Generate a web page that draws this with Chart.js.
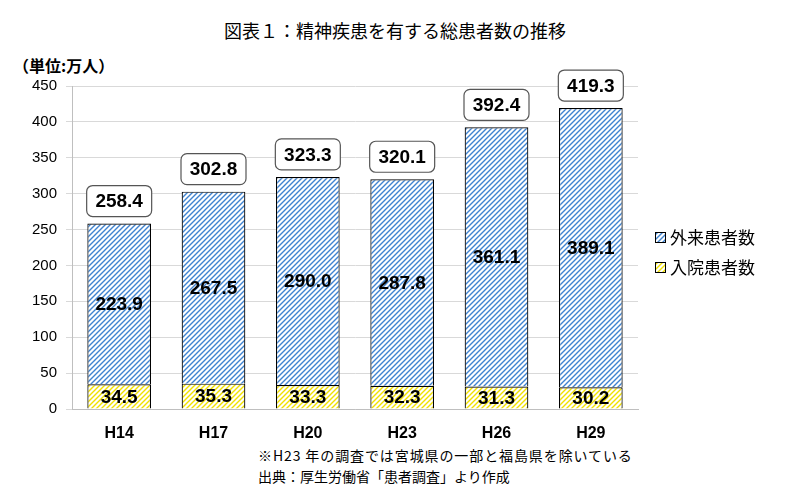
<!DOCTYPE html>
<html><head><meta charset="utf-8">
<script src="https://cdn.jsdelivr.net/npm/chart.js@4/dist/chart.umd.min.js"></script>
<style>
body{margin:0;background:#fff;width:800px;height:497px;overflow:hidden;position:relative;font-family:"Noto Sans CJK JP","Noto Sans",sans-serif;}
.t{position:absolute;white-space:nowrap;color:#000;}
canvas{position:absolute;left:0;top:0;}
</style></head><body>
<div class="t" id="title" style="left:0;width:790px;text-align:center;top:17px;font-size:18px;">図表１：精神疾患を有する総患者数の推移</div>
<div class="t" style="left:13px;top:53px;font-size:16px;font-weight:bold;">（単位:万人）</div>
<div class="t" style="left:258px;top:445px;font-size:14px;letter-spacing:0.9px;">※H23 年の調査では宮城県の一部と福島県を除いている</div>
<div class="t" style="left:258px;top:466px;font-size:14px;">出典：厚生労働省「患者調査」より作成</div>
<canvas id="c" width="800" height="497"></canvas>
<script>
const categories = ["H14","H17","H20","H23","H26","H29"];
const outpatient = [223.9, 267.5, 290.0, 287.8, 361.1, 389.1];
const inpatient = [34.5, 35.3, 33.3, 32.3, 31.3, 30.2];
const totals = [258.4, 302.8, 323.3, 320.1, 392.4, 419.3];
const seriesNames = ["入院患者数","外来患者数"];
const yTicks = [0,50,100,150,200,250,300,350,400,450];

function hatch(bg, fg){
  const p = document.createElement('canvas'); p.width = 5; p.height = 5;
  const x = p.getContext('2d');
  x.fillStyle = bg; x.fillRect(0,0,5,5);
  x.strokeStyle = fg; x.lineWidth = 1.4;
  x.beginPath();
  x.moveTo(-1,6); x.lineTo(6,-1);
  x.moveTo(-1,1); x.lineTo(1,-1);
  x.moveTo(4,6); x.lineTo(6,4);
  x.stroke();
  return x.createPattern(p,'repeat');
}
const ctx0 = document.getElementById('c').getContext('2d');
const bluePat = hatch('#ffffff', '#3f83d0');
const yelPat = hatch('#ffffff', '#f0e000');

const labelsPlugin = {
  id:'labels',
  afterDatasetsDraw(chart){
    const ctx = chart.ctx;
    const m0 = chart.getDatasetMeta(0), m1 = chart.getDatasetMeta(1);
    ctx.save();
    ctx.font = 'bold 19px "Liberation Sans", Arial, sans-serif';
    ctx.textAlign = 'center'; ctx.textBaseline = 'middle'; ctx.fillStyle = '#000';
    m0.data.forEach((b,i)=>{
      ctx.fillText(inpatient[i].toFixed(1), b.x, (b.y + b.base)/2 + 1);
    });
    m1.data.forEach((b,i)=>{
      ctx.fillText(outpatient[i].toFixed(1), b.x, (b.y + b.base)/2 + 1);
      const w = 65, h = 31, bx = b.x - w/2, by = b.y - 7 - h;
      ctx.beginPath();
      ctx.roundRect(bx, by, w, h, 6);
      ctx.fillStyle = '#fff'; ctx.fill();
      ctx.lineWidth = 1.2; ctx.strokeStyle = '#555'; ctx.stroke();
      ctx.fillStyle = '#000';
      ctx.fillText(totals[i].toFixed(1), b.x, by + h/2 + 1);
    });
    const items = [[seriesNames[1], bluePat, 238],[seriesNames[0], yelPat, 268]];
    ctx.font = '17px "Noto Sans CJK JP", sans-serif';
    ctx.textAlign = 'left';
    items.forEach(([t,p,y])=>{
      ctx.fillStyle = p; ctx.fillRect(655.5, y-5.5, 10, 10);
      ctx.lineWidth = 1; ctx.strokeStyle = '#000'; ctx.strokeRect(655.5, y-5.5, 10, 10);
      ctx.fillStyle = '#000'; ctx.fillText(t, 670, y);
    });
    ctx.restore();
  }
};

new Chart(ctx0, {
  type:'bar',
  data:{
    labels: categories,
    datasets:[
      {label: seriesNames[0], data: inpatient, backgroundColor: yelPat, borderColor:'#000', borderWidth:1.2, barPercentage:0.675, categoryPercentage:1},
      {label: seriesNames[1], data: outpatient, backgroundColor: bluePat, borderColor:'#000', borderWidth:1.2, barPercentage:0.675, categoryPercentage:1}
    ]
  },
  options:{
    responsive:false, animation:false,
    layout:{padding:{left:0,right:162,top:86,bottom:48}},
    plugins:{legend:{display:false}, tooltip:{enabled:false}},
    scales:{
      x:{stacked:true, grid:{display:false}, border:{color:'#bfbfbf'},
         ticks:{font:{size:16,weight:'bold',family:'"Liberation Sans", Arial, sans-serif'}, color:'#000', padding:7},
         afterFit(s){ s.height = 40; }},
      y:{stacked:true, min:0, max:450,
         afterBuildTicks(s){ s.ticks = yTicks.map(v=>({value:v})); },
         grid:{color:'#d9d9d9', tickLength:6}, border:{color:'#bfbfbf'},
         ticks:{font:{size:15,family:'"Liberation Sans", Arial, sans-serif'}, color:'#000', padding:9},
         afterFit(s){ s.width = 72; }}
    }
  },
  plugins:[labelsPlugin]
});
</script>
</body></html>
